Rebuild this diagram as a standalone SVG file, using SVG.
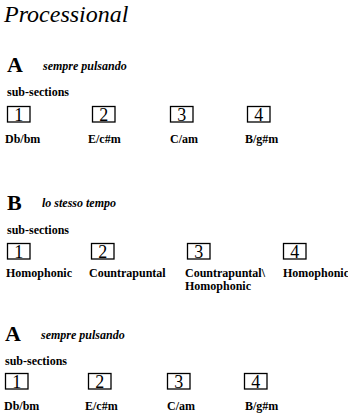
<svg xmlns="http://www.w3.org/2000/svg" width="348" height="419" viewBox="0 0 348 419">
<style>
text{font-family:'Liberation Serif','Tinos','DejaVu Serif',serif;fill:#000}
.title{font-size:24px;font-style:italic}
.sec{font-size:22px;font-weight:bold}
.tempo{font-size:12px;font-style:italic;font-weight:bold}
.sub{font-size:12px;font-weight:bold}
.lab{font-size:12px;font-weight:bold}
.box rect{fill:#fff;stroke:#000;stroke-width:1.3}
.box text{font-size:18px;text-anchor:middle}
</style>
<rect width="348" height="419" fill="#fff"/>
<g font-family="Liberation Serif, serif">
<text class="title" x="4" y="22">Processional</text>

<g id="sectionA1">
<text class="sec" x="7" y="72">A</text>
<text class="tempo" x="43" y="70">sempre pulsando</text>
<text class="sub" x="7" y="96">sub-sections</text>
<g id="a1-1" class="box"><rect x="7.5" y="106.5" width="22.5" height="15.5"/><text x="18.75" y="121">1</text></g>
<g id="a1-2" class="box"><rect x="92.5" y="106.5" width="22.5" height="15.5"/><text x="103.75" y="121">2</text></g>
<g id="a1-3" class="box"><rect x="170.5" y="106.5" width="22.5" height="15.5"/><text x="181.75" y="121">3</text></g>
<g id="a1-4" class="box"><rect x="247.5" y="106.5" width="22.5" height="15.5"/><text x="258.75" y="121">4</text></g>
<text class="lab" x="5" y="143">Db/bm</text>
<text class="lab" x="88" y="143">E/c#m</text>
<text class="lab" x="170" y="143">C/am</text>
<text class="lab" x="245" y="143">B/g#m</text>
</g>

<g id="sectionB">
<text class="sec" x="7" y="210">B</text>
<text class="tempo" x="42" y="207">lo stesso tempo</text>
<text class="sub" x="7" y="234">sub-sections</text>
<g id="b-1" class="box"><rect x="7.5" y="243.5" width="22.5" height="15.5"/><text x="18.75" y="258">1</text></g>
<g id="b-2" class="box"><rect x="91.5" y="243.5" width="22.5" height="15.5"/><text x="102.75" y="258">2</text></g>
<g id="b-3" class="box"><rect x="187.5" y="243.5" width="22.5" height="15.5"/><text x="198.75" y="258">3</text></g>
<g id="b-4" class="box"><rect x="283.5" y="243.5" width="22.5" height="15.5"/><text x="294.75" y="258">4</text></g>
<text class="lab" x="6" y="277">Homophonic</text>
<text class="lab" x="89" y="277">Countrapuntal</text>
<text class="lab" x="185" y="277">Countrapuntal\</text>
<text class="lab" x="185" y="290">Homophonic</text>
<text class="lab" x="283" y="277">Homophonic</text>
</g>

<g id="sectionA2">
<text class="sec" x="5" y="341">A</text>
<text class="tempo" x="41" y="339">sempre pulsando</text>
<text class="sub" x="5" y="365">sub-sections</text>
<g id="a2-1" class="box"><rect x="5.5" y="373.5" width="22.5" height="15.5"/><text x="16.75" y="388">1</text></g>
<g id="a2-2" class="box"><rect x="88.5" y="373.5" width="22.5" height="15.5"/><text x="99.75" y="388">2</text></g>
<g id="a2-3" class="box"><rect x="167.5" y="373.5" width="22.5" height="15.5"/><text x="178.75" y="388">3</text></g>
<g id="a2-4" class="box"><rect x="244.5" y="373.5" width="22.5" height="15.5"/><text x="255.75" y="388">4</text></g>
<text class="lab" x="4" y="410">Db/bm</text>
<text class="lab" x="85" y="410">E/c#m</text>
<text class="lab" x="167" y="410">C/am</text>
<text class="lab" x="245" y="410">B/g#m</text>
</g>
</g>
</svg>
